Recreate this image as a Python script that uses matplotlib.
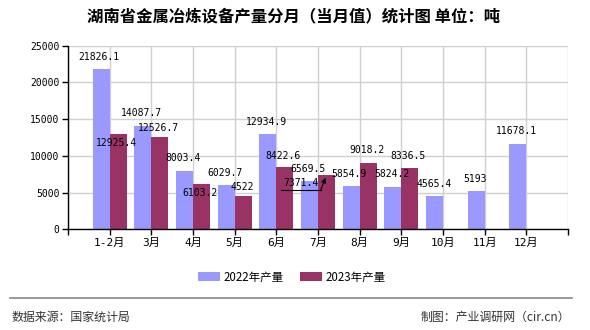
import numpy as np
import matplotlib
matplotlib.use("Agg")
import matplotlib.pyplot as plt
from matplotlib.lines import Line2D
from matplotlib.transforms import IdentityTransform
from matplotlib.patches import Patch

# ---- data ----
categories = ["1-2月", "3月", "4月", "5月", "6月", "7月", "8月", "9月", "10月", "11月", "12月"]
values_2022 = [21826.1, 14087.7, 8003.4, 6029.7, 12934.9, 6569.5, 5854.9, 5824.2, 4565.4, 5193, 11678.1]
values_2023 = [12925.4, 12526.7, 6103.2, 4522, 8422.6, 7371.4, 9018.2, 8336.5]
series_names = ["2022年产量", "2023年产量"]
y_ticks = [0, 5000, 10000, 15000, 20000, 25000]
title = "湖南省金属冶炼设备产量分月（当月值）统计图 单位：吨"
source_text = "数据来源：国家统计局"
credit_text = "制图：产业调研网（cir.cn）"

# label offsets in pixels (dx right, dy down) relative to bar tops
off_2022 = [(-2.5, -12), (-1.7, -13), (-1.3, -12.2), (-1.5, -12.3), (-1, -12.6), (-1.8, -12),
            (-2.5, -12.3), (-0.7, -12.5), (0, -12), (-1.5, -12.5), (-1, -12.5)]
off_2023 = [(-1.5, 9), (-1.2, -9.6), (-1.3, 8.8), (-1, -9.4), (-1.7, -11.7), (-25.8, 8.1),
            (-1, -13), (-1.5, -12)]
leader_index = 5

C22 = "#9999FF"
C23 = "#993366"
MONO = ["DejaVu Sans Mono", "Noto Sans CJK SC"]
CJK = ["Noto Sans CJK SC", "DejaVu Sans"]

fig = plt.figure(figsize=(5.9, 3.3), dpi=100)
ax = fig.add_axes([68/590, (330-229.3)/330, 500/590, 183.6/330])

x = np.arange(len(categories))
w = 0.41
ax.bar(x[:len(values_2022)] - w/2, values_2022, width=w, color=C22, zorder=3)
ax.bar(x[:len(values_2023)] + w/2, values_2023, width=w, color=C23, zorder=3)

ax.set_xlim(-1, len(categories))
ax.set_ylim(0, 25000)
ax.set_yticks(y_ticks)
ax.set_yticklabels([str(v) for v in y_ticks], family=MONO, fontsize=7)
xt = np.arange(-1, len(categories) + 1)
ax.set_xticks(xt)
ax.set_xticklabels([""] + categories + [""], family=MONO, fontsize=8)
ax.tick_params(axis="both", direction="out", length=4, width=1, color="black", pad=2)
ax.grid(True, color="#d0d0d0", lw=1, zorder=0)
for s in ["top", "right"]:
    ax.spines[s].set_visible(False)
for s in ["left", "bottom"]:
    ax.spines[s].set_color("black")
    ax.spines[s].set_linewidth(1)
    ax.spines[s].set_zorder(4)

for i, v in enumerate(values_2022):
    dx, dy = off_2022[i]
    ax.annotate(f"{v:g}", xy=(x[i] - w/2, v), xytext=(dx, -dy), textcoords="offset pixels",
                ha="center", va="center", family=MONO, fontsize=7, zorder=5)
for i, v in enumerate(values_2023):
    dx, dy = off_2023[i]
    ax.annotate(f"{v:g}", xy=(x[i] + w/2, v), xytext=(dx, -dy), textcoords="offset pixels",
                ha="center", va="center", family=MONO, fontsize=7, zorder=5)

# leader line for crowded label
px, py = ax.transData.transform((x[leader_index] + w/2, values_2023[leader_index]))
fig.add_artist(Line2D([px - 46, px - 5.8], [py - 14.8, py - 14.8], color="black", lw=0.8,
                      transform=IdentityTransform()))
ax.annotate("", xy=(x[leader_index] + w/2, values_2023[leader_index]), xytext=(-5.8, -14.8),
            textcoords="offset pixels",
            arrowprops=dict(arrowstyle="-|>", color="black", lw=0.8, mutation_scale=7,
                            shrinkA=0, shrinkB=2), zorder=6)

fig.text(294/590, 1 - 16/330, title, ha="center", va="center", family=CJK, fontsize=11.8,
         fontweight="bold")

handles = [Patch(facecolor=C22), Patch(facecolor=C23)]
fig.legend(handles, series_names, loc="center", bbox_to_anchor=(292/590, 1 - 277/330),
           ncol=2, frameon=False, prop={"family": CJK, "size": 8.3},
           handlelength=1.9, handleheight=0.8, handletextpad=0.35, columnspacing=1.4)

fig.add_artist(Line2D([10/590, 572/590], [1 - 298.3/330, 1 - 298.3/330], color="#888888", lw=1.2,
                      transform=fig.transFigure))
fig.text(12/590, 1 - 317.5/330, source_text, ha="left", va="center", family=CJK,
         fontsize=8.6, color="#333333")
fig.text(570/590, 1 - 317.5/330, credit_text, ha="right", va="center", family=CJK,
         fontsize=8.6, color="#333333")

fig.savefig("out.png", dpi=100)
